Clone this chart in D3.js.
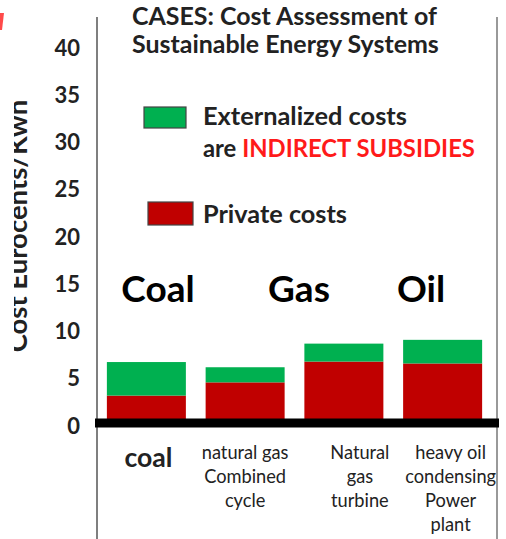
<!DOCTYPE html>
<html><head><meta charset="utf-8">
<script src="https://cdn.jsdelivr.net/npm/d3@7"></script>
<style>
html,body{margin:0;padding:0;background:#fff;}
svg{display:block;}
text{font-family:Lato,"Open Sans",sans-serif;}
</style></head>
<body>
<script>
const categories = ["coal", "natural gas Combined cycle", "Natural gas turbine", "heavy oil condensing Power plant"];
const categoryLines = [["coal"], ["natural gas", "Combined", "cycle"], ["Natural", "gas", "turbine"], ["heavy oil", "condensing", "Power", "plant"]];
const privateCosts = [2.9, 4.3, 6.5, 6.3];
const externalCosts = [3.55, 1.6, 1.9, 2.5];
const yTicks = [0, 5, 10, 15, 20, 25, 30, 35, 40];
const fuelGroups = ["Coal", "Gas", "Oil"];
const seriesNames = ["Externalized costs", "Private costs"];

const W = 506, H = 539;
const svg = d3.select("body").append("svg").attr("width", W).attr("height", H);

const x = d3.scaleBand().domain(categories).range([97, 492]).paddingInner(0.2).paddingOuter(0.1);
const y = d3.scaleLinear().domain([0, 40]).range([423, 45]);

const green = "#00b050", red = "#c00000";

// scale a text's font size so its rendered width matches a target width
function fit(sel, target) {
  const fs = +sel.attr("font-size");
  const w = sel.node().getComputedTextLength();
  if (w > 0) sel.attr("font-size", (fs * target / w).toFixed(2));
  return sel;
}

// frame lines
svg.append("line").attr("x1", 97).attr("x2", 97).attr("y1", 17).attr("y2", H).attr("stroke", "#555").attr("stroke-width", 1.5);
svg.append("line").attr("x1", 497).attr("x2", 497).attr("y1", 17).attr("y2", H).attr("stroke", "#777").attr("stroke-width", 1.5);

// stacked bars
const stackData = categories.map((c, i) => ({cat: c, priv: privateCosts[i], ext: externalCosts[i]}));
const stack = d3.stack().keys(["priv", "ext"])(stackData);
const colors = {priv: red, ext: green};
svg.append("g").selectAll("g").data(stack).join("g")
  .attr("fill", d => colors[d.key])
  .selectAll("rect").data(d => d).join("rect")
  .attr("x", d => x(d.data.cat))
  .attr("width", x.bandwidth())
  .attr("y", d => y(d[1]))
  .attr("height", d => y(d[0]) - y(d[1]));

// thick baseline
svg.append("rect").attr("x", 95).attr("y", y(0) - 4.5).attr("width", 404).attr("height", 9).attr("fill", "#000");

// y tick labels
svg.append("g").selectAll("text").data(yTicks).join("text")
  .attr("x", 80).attr("y", d => y(d) + 2)
  .attr("text-anchor", "end").attr("dominant-baseline", "central")
  .attr("font-size", 22).attr("font-weight", "bold").attr("fill", "#222")
  .text(d => d);

// y axis title (clipped, as in the reference)
svg.append("clipPath").attr("id", "ytclip").append("rect").attr("x", 14).attr("y", 0).attr("width", 40).attr("height", H);
svg.append("g").attr("clip-path", "url(#ytclip)")
  .append("text")
  .attr("transform", "translate(27,226) rotate(-90)")
  .attr("text-anchor", "middle")
  .attr("font-size", 27.5).attr("font-weight", "bold").attr("fill", "#222")
  .text("Cost Eurocents/Kwh");

// red fragment top-left
svg.append("path").attr("d", "M0,13 L4,13 L2,30 L0,30 Z").attr("fill", "#ff2a2a").attr("opacity", 0.85);

// title
const t1 = svg.append("text").attr("x", 132).attr("y", 25).attr("font-size", 20).attr("font-weight", "bold").attr("fill", "#222").text("CASES: Cost Assessment of");
fit(t1, 305);
svg.append("text").attr("x", 132).attr("y", 53).attr("font-size", t1.attr("font-size")).attr("font-weight", "bold").attr("fill", "#222").text("Sustainable Energy Systems");

// legend
svg.append("rect").attr("x", 144).attr("y", 107).attr("width", 42).attr("height", 21).attr("fill", green).attr("stroke", "#444").attr("stroke-width", 1.2);
svg.append("rect").attr("x", 148).attr("y", 202).attr("width", 45).attr("height", 23).attr("fill", red).attr("stroke", "#444").attr("stroke-width", 1.2);
const lg1 = svg.append("text").attr("x", 203).attr("y", 125).attr("font-size", 21).attr("font-weight", "bold").attr("fill", "#222").text(seriesNames[0]);
fit(lg1, 204);
const l2 = svg.append("text").attr("x", 203).attr("y", 157).attr("font-size", 21).attr("font-weight", "bold").attr("fill", "#222");
l2.append("tspan").text("are ");
l2.append("tspan").attr("fill", "#ff1a1a").text("INDIRECT SUBSIDIES");
fit(l2, 272);
const lg3 = svg.append("text").attr("x", 203).attr("y", 223).attr("font-size", 21).attr("font-weight", "bold").attr("fill", "#222").text(seriesNames[1]);
fit(lg3, 144);

// big group labels
const groupX = [158, 299, 421];
svg.append("g").selectAll("text").data(fuelGroups).join("text")
  .attr("x", (d, i) => groupX[i]).attr("y", 302)
  .attr("text-anchor", "middle")
  .attr("font-size", 37).attr("font-weight", "bold").attr("fill", "#000")
  .text(d => d);

// category labels
const labelDx = [2, 0, 16, 8];
const probe = svg.append("text").attr("font-size", 16).text("condensing");
fit(probe, 91);
const catFs = probe.attr("font-size");
probe.remove();
const cl = svg.append("g");
categoryLines.forEach((lines, i) => {
  const cx = x(categories[i]) + x.bandwidth() / 2 + labelDx[i];
  const t = cl.append("text").attr("text-anchor", "middle").attr("fill", "#222")
    .attr("font-size", i === 0 ? 20 : catFs).attr("font-weight", i === 0 ? "bold" : "normal");
  lines.forEach((ln, j) => {
    t.append("tspan").attr("x", cx).attr("y", (i === 0 ? 467 : 459) + j * 24).text(ln);
  });
  if (i === 0) fit(t, 48);
});
</script>
</body></html>
